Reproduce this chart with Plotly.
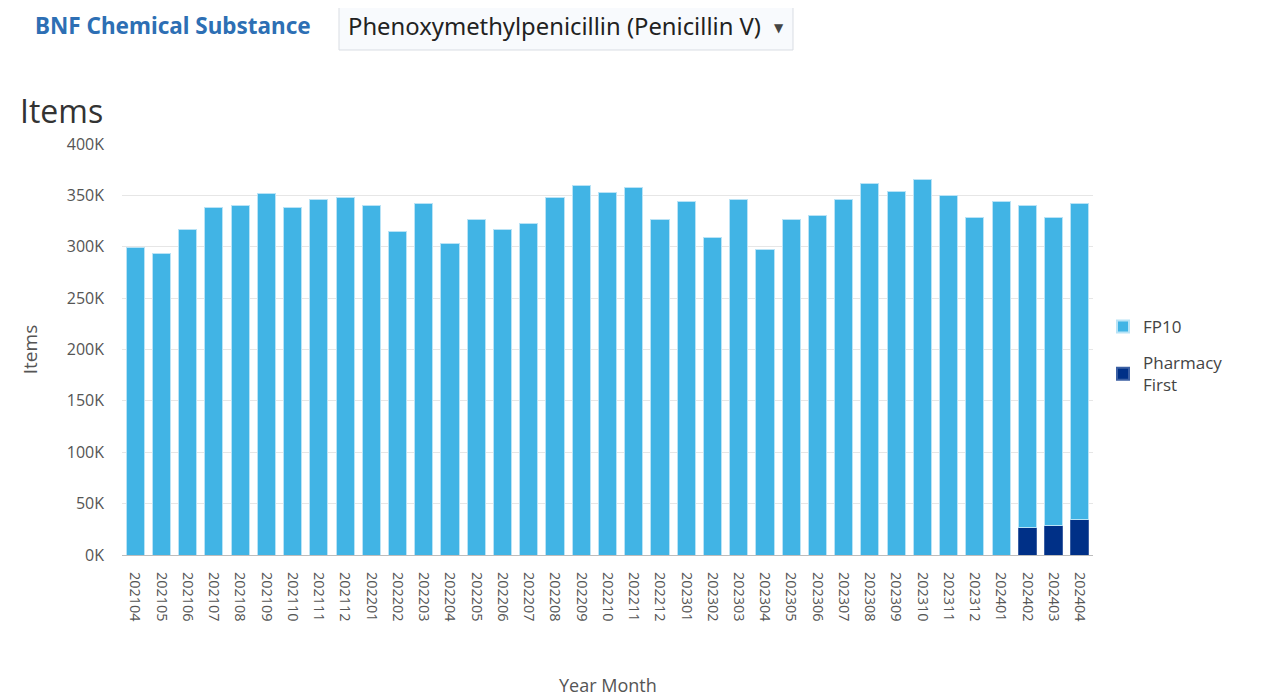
import plotly.graph_objects as go

months = ["202104", "202105", "202106", "202107", "202108", "202109", "202110", "202111",
          "202112", "202201", "202202", "202203", "202204", "202205", "202206", "202207",
          "202208", "202209", "202210", "202211", "202212", "202301", "202302", "202303",
          "202304", "202305", "202306", "202307", "202308", "202309", "202310", "202311",
          "202312", "202401", "202402", "202403", "202404"]

fp10 = [299500, 293600, 317000, 338400, 340300, 352000, 338400, 346200,
        348100, 340300, 315000, 342300, 303000, 326700, 317000, 322800,
        348100, 359800, 352600, 357800, 326700, 344200, 309200, 346200,
        297500, 326700, 330600, 346200, 361700, 354000, 365600, 350000,
        328700, 344200, 313700, 300200, 307600]

pharmacy_first = [0, 0, 0, 0, 0, 0, 0, 0,
                  0, 0, 0, 0, 0, 0, 0, 0,
                  0, 0, 0, 0, 0, 0, 0, 0,
                  0, 0, 0, 0, 0, 0, 0, 0,
                  0, 0, 26600, 28500, 34700]

y_tickvals = [0, 50000, 100000, 150000, 200000, 250000, 300000, 350000, 400000]
y_ticktext = ["0K", "50K", "100K", "150K", "200K", "250K", "300K", "350K", "400K"]

FONT = "Open Sans, Noto Sans, sans-serif"
OFF = 8  # page body margin
W, H = 1247, 688
L, T = 122 - OFF, 144 - OFF
R = W - (1093 - OFF)
B = H - (555 - OFF)
PW, PH = W - L - R, H - T - B


def px(x):
    return (x - OFF - L) / PW


def py(y):
    return (H - B - (y - OFF)) / PH


fig = go.Figure()
fig.add_trace(go.Bar(
    x=months, y=pharmacy_first, name="Pharmacy<br>First", legendrank=2, legendgroup="pf",
    marker=dict(color="#003087", line=dict(color="#3b5fa3", width=1)),
))
fig.add_trace(go.Bar(
    x=months, y=fp10, name="FP10", legendrank=1, legendgroup="fp10",
    marker=dict(color="#41b4e5", line=dict(color="#b9e3f6", width=1)),
))

fig.update_layout(
    barmode="stack",
    bargap=0.31,
    width=W, height=H,
    margin=dict(l=L, r=R, t=T, b=B, autoexpand=False),
    paper_bgcolor="white",
    plot_bgcolor="white",
    font=dict(family=FONT, color="#555555", size=14),
    showlegend=True,
    legend=dict(
        x=px(1103), y=py(309), xanchor="left", yanchor="top",
        font=dict(family=FONT, size=17, color="#444444"),
        traceorder="grouped",
        tracegroupgap=11,
        itemsizing="constant",
    ),
    xaxis=dict(
        type="category",
        automargin=False,
        tickangle=90,
        tickfont=dict(family=FONT, size=14.5, color="#555555"),
        showgrid=False,
        showline=True, linecolor="#bdbdbd", linewidth=1,
        ticks="", ticklabelstandoff=13,
    ),
    yaxis=dict(
        automargin=False,
        range=[0, 400000],
        tickvals=y_tickvals,
        ticktext=y_ticktext,
        tickfont=dict(family=FONT, size=16, color="#555555"),
        showgrid=True, gridcolor="#e6e6e6", gridwidth=1,
        ticks="", ticklabelstandoff=17,
        zeroline=False,
        title=dict(text="Items", font=dict(family=FONT, size=19, color="#555555"),
                   standoff=24),
    ),
)

# X axis title
fig.add_annotation(
    text="Year Month", xref="paper", yref="paper",
    x=0.5, y=py(685), xanchor="center", yanchor="middle",
    showarrow=False, font=dict(family=FONT, size=18, color="#555555"),
)

# Chart title
fig.add_annotation(
    text="Items", xref="paper", yref="paper",
    x=px(18), y=py(110), xanchor="left", yanchor="middle",
    showarrow=False, font=dict(family=FONT, size=32, color="#333333"),
)

# Header label
fig.add_annotation(
    text="<b>BNF Chemical Substance</b>", xref="paper", yref="paper",
    x=px(33), y=py(25), xanchor="left", yanchor="middle",
    showarrow=False, font=dict(family="Noto Sans, Open Sans, sans-serif", size=22.5, color="#2d6fb4"),
)

# Dropdown box
fig.add_shape(
    type="rect", xref="paper", yref="paper",
    x0=px(339), x1=px(793), y0=py(50), y1=py(3),
    line=dict(color="#d9dde3", width=1), fillcolor="#f8fafd", layer="above",
)
fig.add_annotation(
    text="Phenoxymethylpenicillin (Penicillin V)", xref="paper", yref="paper",
    x=px(346), y=py(26), xanchor="left", yanchor="middle",
    showarrow=False, font=dict(family="Noto Sans, Open Sans, sans-serif", size=23.8, color="#222222"),
)
fig.add_annotation(
    text="▼", xref="paper", yref="paper",
    x=px(779), y=py(28), xanchor="center", yanchor="middle",
    showarrow=False, font=dict(family="DejaVu Sans, sans-serif", size=12, color="#444444"),
)

fig.write_html("out.html")
